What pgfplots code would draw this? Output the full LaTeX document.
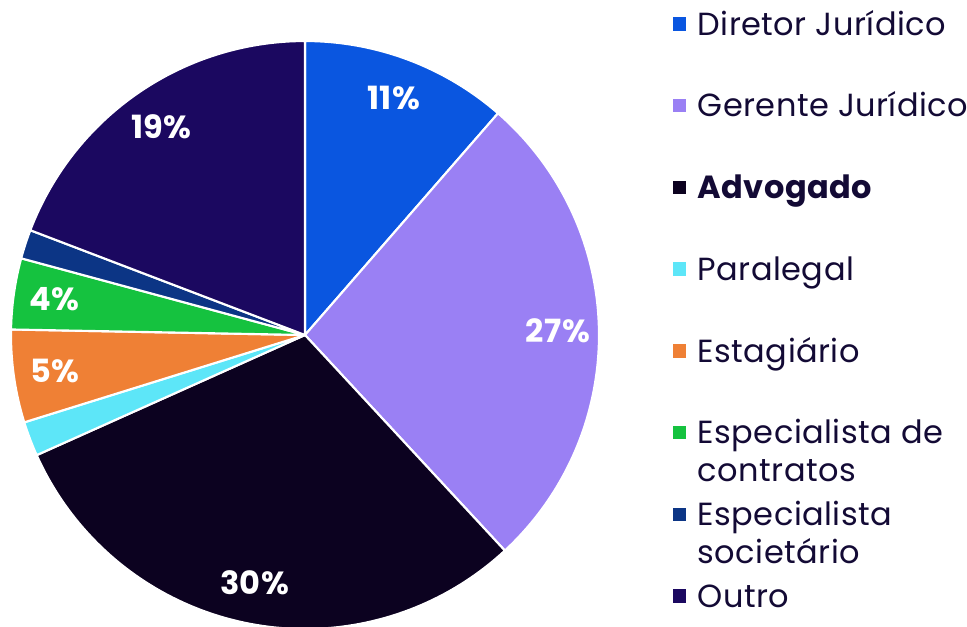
\documentclass[border=0pt]{standalone}
\usepackage{pgfplots}
\pgfplotsset{compat=1.18}
\usepackage{fontspec}
\setmainfont{Poppins}[LetterSpace=1.5]
\definecolor{cDir}{HTML}{0A56E0}
\definecolor{cGer}{HTML}{9A80F4}
\definecolor{cAdv}{HTML}{0C0220}
\definecolor{cPar}{HTML}{5DE6F8}
\definecolor{cEst}{HTML}{EF8035}
\definecolor{cCon}{HTML}{15C23F}
\definecolor{cSoc}{HTML}{0C3585}
\definecolor{cOut}{HTML}{1B0860}
\definecolor{txt}{HTML}{130A35}
\tikzset{slicelabel/.style={font=\fontsize{24}{24}\selectfont\bfseries, text=white, inner sep=0pt}}
\newcommand\cum{0}
% #1 value (percent), #2 colour, #3 legend text, #4 label text
\newcommand{\addslice}[4]{%
  \pgfmathsetmacro{\sa}{90-3.6*\cum}%
  \pgfmathsetmacro{\sb}{90-3.6*(\cum+#1)}%
  \pgfmathsetmacro{\sm}{(\sa+\sb)/2}%
  \pgfmathsetmacro{\lx}{0.86*cos(\sm)}%
  \pgfmathsetmacro{\ly}{0.86*sin(\sm)}%
  \pgfmathsetmacro{\newcum}{\cum+#1}%
  \xdef\cum{\newcum}%
  \edef\doslice{\noexpand\addplot[fill=#2, draw=white, line width=1.6pt, line join=round, domain=\sb:\sa, samples=90] ({cos(x)},{sin(x)}) -- (axis cs:0,0) -- cycle;}%
  \doslice
  \addlegendentry{#3}%
  \edef\dolabel{\noexpand\node[slicelabel] at (axis cs:\lx,\ly) {#4};}%
  \dolabel
}
\begin{document}
\begin{tikzpicture}
\begin{axis}[
  x=220.5pt, y=220.5pt,
  hide axis,
  xmin=-1.0374, xmax=2.2517, ymin=-0.9898, ymax=1.1395,
  clip=true,
  legend cell align=left,
  legend image code/.code={\fill[#1, draw=none] (0pt,-5pt) rectangle (10pt,5pt);},
  legend style={draw=none, fill=none, inner sep=0pt, outer sep=0pt,
    row sep=0pt, column sep=8.5pt,
    at={(axis cs:1.2517,1.197)}, anchor=north west,
    font=\fontsize{24}{28.5}\selectfont, text=txt,
    nodes={inner sep=0pt, text height=39pt, text depth=22.3pt}},
]
\addslice{11.4}{cDir}{Diretor Jurídico}{11\%}
\addslice{26.7}{cGer}{Gerente Jurídico}{27\%}
\addslice{30.2}{cAdv}{\textbf{Advogado}}{30\%}
\addslice{1.9}{cPar}{Paralegal}{}
\addslice{5.1}{cEst}{Estagiário}{5\%}
\addslice{3.9}{cCon}{\begin{tabular}[t]{@{}l@{}}Especialista de\\contratos\end{tabular}}{4\%}
\addslice{1.6}{cSoc}{\begin{tabular}[t]{@{}l@{}}Especialista\\societário\end{tabular}}{}
\addslice{19.2}{cOut}{Outro}{19\%}
\end{axis}
\pgfresetboundingbox
\path[use as bounding box] (current axis.south west) rectangle (current axis.north east);
\end{tikzpicture}
\end{document}
